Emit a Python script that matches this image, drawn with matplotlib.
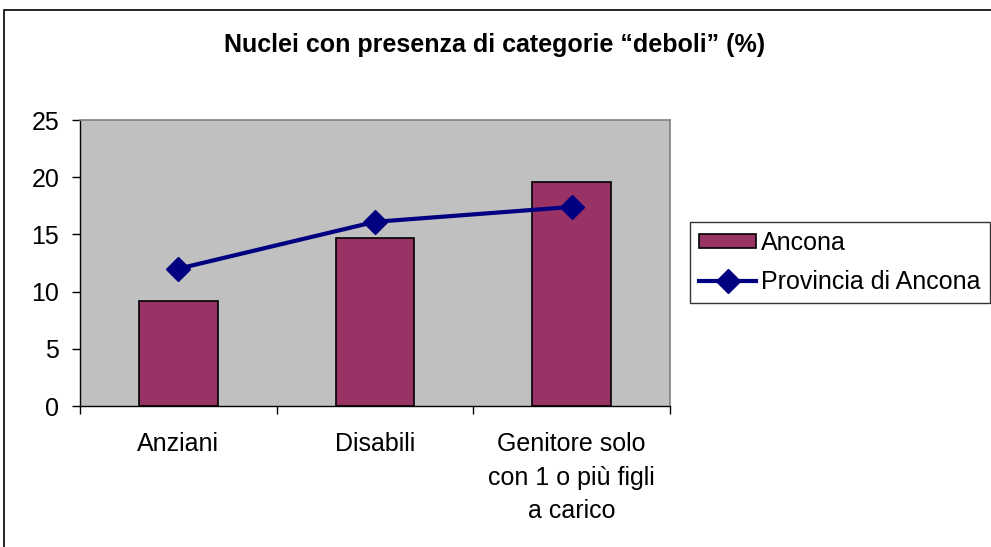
import matplotlib.pyplot as plt
from matplotlib.patches import Rectangle
import numpy as np

plt.rcParams['font.family'] = ['Liberation Sans', 'DejaVu Sans']

categories = ["Anziani", "Disabili", "Genitore solo\ncon 1 o più figli\na carico"]
ancona = [9.2, 14.7, 19.6]
provincia = [12.0, 16.1, 17.4]
yticks = [0, 5, 10, 15, 20, 25]

W, H = 991, 547
fig = plt.figure(figsize=(W / 100, H / 100), dpi=100)

# outer chart frame (left and top edges visible)
fig.patches.append(Rectangle((4 / W, -0.1), 1.2, 1 - 10 / H + 0.1, transform=fig.transFigure,
                             fill=False, edgecolor='black', linewidth=1.2))

ax = fig.add_axes([80 / W, 1 - 406 / H, 590 / W, 286 / H])
ax.set_facecolor('#c0c0c0')

x = np.arange(len(categories))
bars = ax.bar(x, ancona, width=0.4, color='#993366', edgecolor='black', linewidth=1.2,
              label='Ancona', zorder=2)
line, = ax.plot(x, provincia, color='#000080', linewidth=3, marker='D', markersize=12,
                label='Provincia di Ancona', zorder=3)

ax.set_xlim(-0.5, 2.5)
ax.set_ylim(0, 25)
ax.set_yticks(yticks)
ax.set_yticklabels([str(v) for v in yticks], fontsize=18)

# category labels centred, ticks on boundaries
ax.set_xticks([-0.5, 0.5, 1.5, 2.5])
ax.set_xticklabels([])
ax.set_xticks(x, minor=True)
ax.set_xticklabels(categories, minor=True, fontsize=18, linespacing=1.5, va='top')
ax.tick_params(axis='x', which='minor', length=0, pad=19)
ax.tick_params(axis='x', which='major', direction='out', length=6, width=1, color='black')
ax.tick_params(axis='y', direction='out', length=6, width=1, color='black', pad=9)

for side in ['top', 'right']:
    ax.spines[side].set_color('#808080')
    ax.spines[side].set_linewidth(1.2)
for side in ['left', 'bottom']:
    ax.spines[side].set_color('black')
    ax.spines[side].set_linewidth(1)

fig.text(495 / W, 1 - 45 / H, 'Nuclei con presenza di categorie \u201cdeboli\u201d (%)',
         ha='center', va='center', fontsize=18, fontweight='bold')

leg = fig.legend([bars, line], ['Ancona', 'Provincia di Ancona'],
                 loc='upper left', bbox_to_anchor=(690 / W, 1 - 222 / H), fontsize=18,
                 frameon=True, fancybox=False, edgecolor='black', borderpad=0.35,
                 handlelength=2.3, handleheight=0.5, handletextpad=0.2,
                 labelspacing=0.6, borderaxespad=0)
leg.get_frame().set_linewidth(1)

fig.savefig('out.png', dpi=100)
